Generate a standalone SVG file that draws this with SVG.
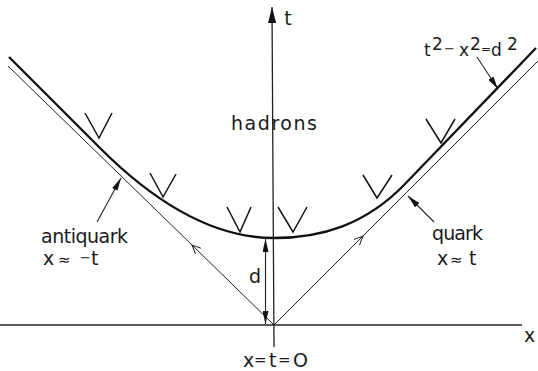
<svg xmlns="http://www.w3.org/2000/svg" width="538" height="371" viewBox="0 0 538 371">
<style>
text{font-family:"DejaVu Sans","Liberation Sans",sans-serif;fill:#1a1a1a}
.lbl{font-size:19px}
.eq{font-size:17px}
.op{font-size:13px}
.eqs{font-size:15px}
.rel{font-size:15px}
.ax{stroke:#222;stroke-width:1.3;fill:none}
.thin{stroke:#222;stroke-width:1;fill:none}
.heavy{stroke:#111;stroke-width:2.3;fill:none}
.v{stroke:#111;stroke-width:1.5;fill:none}
.ptr{stroke:#222;stroke-width:1.1;fill:none}
</style>
<defs>
<marker id="fa" markerUnits="userSpaceOnUse" markerWidth="13" markerHeight="6" refX="13" refY="3" orient="auto"><path d="M0,0 L13,3 L0,6 z" fill="#111"/></marker>
<marker id="big" markerUnits="userSpaceOnUse" markerWidth="16" markerHeight="8" refX="16" refY="4" orient="auto"><path d="M0,0 L16,4 L0,8 z" fill="#111"/></marker>
<marker id="oa" markerUnits="userSpaceOnUse" markerWidth="10" markerHeight="9" refX="9" refY="4.5" orient="auto"><path d="M0,0.5 L9,4.5 L0,8.5" fill="none" stroke="#222" stroke-width="1"/></marker>
</defs>
<g id="axes">
<line class="ax" x1="0" y1="325" x2="522" y2="325"/>
<line class="ax" x1="274" y1="347" x2="272" y2="7" marker-end="url(#big)"/>
</g>
<g id="connectors">
<line class="thin" x1="274" y1="325" x2="192" y2="245" marker-end="url(#oa)"/>
<line class="thin" x1="192" y1="245" x2="8" y2="66"/>
<line class="thin" x1="274" y1="325" x2="363" y2="236" marker-end="url(#oa)"/>
<line class="thin" x1="363" y1="236" x2="538" y2="61"/>
<line class="ptr" x1="265.5" y1="281" x2="265.5" y2="239" marker-end="url(#fa)"/>
<line class="ptr" x1="265.5" y1="281" x2="265.5" y2="324" marker-end="url(#fa)"/>
<line class="ptr" x1="477" y1="57" x2="498" y2="89" marker-end="url(#fa)"/>
<line class="ptr" x1="434" y1="222" x2="408" y2="196" marker-end="url(#fa)"/>
<line class="ptr" x1="97" y1="222" x2="121" y2="178" marker-end="url(#fa)"/>
</g>
<g id="hyperbola">
<path class="heavy" d="M9,57 L100,148 C155,203 214,238 274,238 C320,238 365,225.5 405,184 L536,48"/>
</g>
<g id="hadron-marks">
<path class="v" d="M85,113 L99,138 L112,113"/>
<path class="v" d="M150,173 L163,197 L176,174"/>
<path class="v" d="M227,207 L240,232 L251,207"/>
<path class="v" d="M278,207 L293,232 L307,207"/>
<path class="v" d="M363,175 L377,198 L392,175"/>
<path class="v" d="M426,119 L441,143 L455,119"/>
</g>
<g id="labels">
<text class="lbl" x="288" y="25" font-size="18" text-anchor="middle">t</text>
<text class="lbl" x="231" y="130" textLength="86">hadrons</text>
<text class="lbl" x="255" y="283" text-anchor="middle">d</text>
<text class="lbl" x="41" y="243" textLength="87">antiquark</text>
<text class="lbl" x="43" y="265">x<tspan class="rel" x="58">≈</tspan><tspan class="op" x="80" y="262">−</tspan><tspan x="91" y="265">t</tspan></text>
<text class="lbl" x="432" y="240" textLength="51">quark</text>
<text class="lbl" x="437" y="265">x<tspan class="rel" x="450">≈</tspan><tspan x="469">t</tspan></text>
<text class="lbl" x="243" y="367">x<tspan class="eqs" x="254" y="365">=</tspan><tspan x="269" y="367">t</tspan><tspan class="eqs" x="278" y="365">=</tspan><tspan x="293" y="367">O</tspan></text>
<text class="lbl" x="524" y="342">x</text>
<text class="eq" x="424" y="56">t<tspan x="432" y="50">2</tspan><tspan class="op" x="444" y="53">−</tspan><tspan x="459" y="56">x</tspan><tspan x="470" y="50">2</tspan><tspan font-size="12" x="481" y="53">=</tspan><tspan x="491" y="56">d</tspan><tspan x="507" y="50">2</tspan></text>
</g>
</svg>
